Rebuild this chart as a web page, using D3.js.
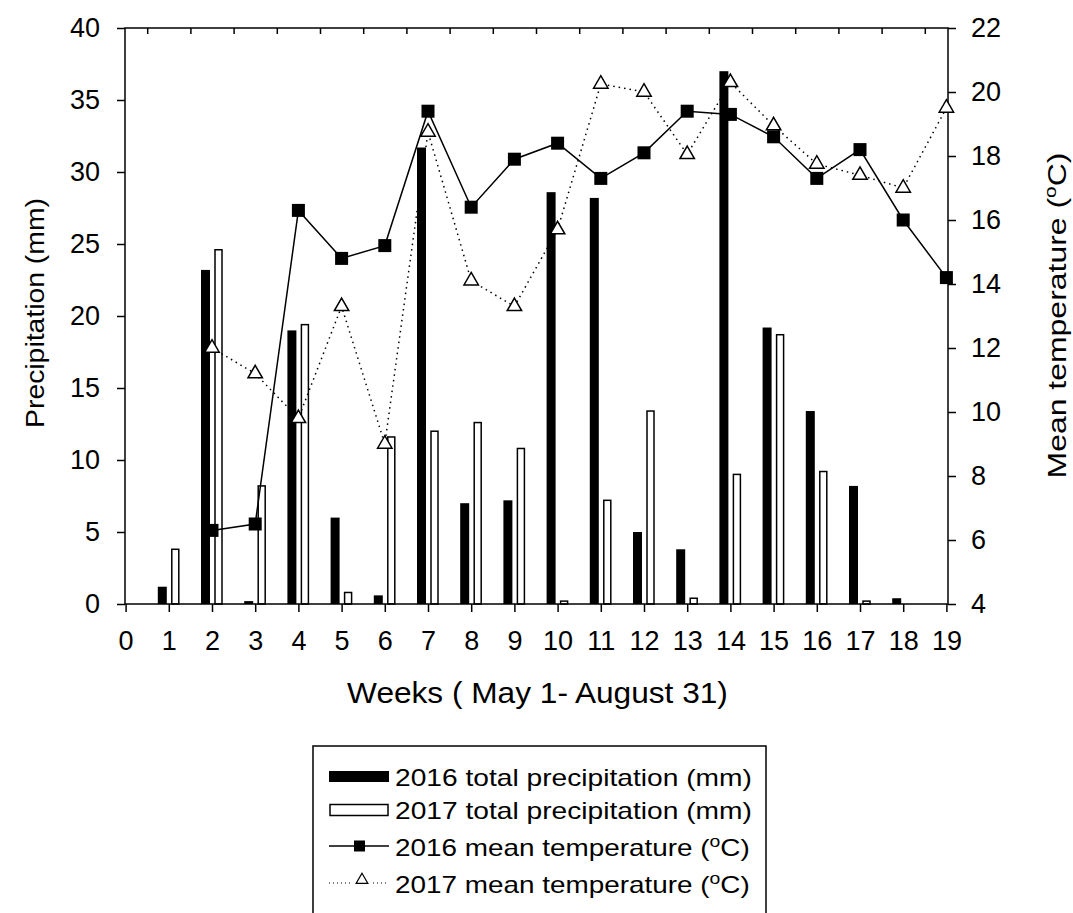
<!DOCTYPE html>
<html>
<head>
<meta charset="utf-8">
<script src="https://cdn.jsdelivr.net/npm/d3@7"></script>
<style>
  html, body { margin: 0; padding: 0; background: #fff; }
  svg { display: block; font-family: "Liberation Sans", Arial, sans-serif; }
</style>
</head>
<body>
<svg id="chart" width="1073" height="913"></svg>
<script>
// ---- data ----
const weeks = [1,2,3,4,5,6,7,8,9,10,11,12,13,14,15,16,17,18,19];
const precip2016 = [1.2,23.2,0.2,19.0,6.0,0.6,31.7,7.0,7.2,28.6,28.2,5.0,3.8,37.0,19.2,13.4,8.2,0.4,0];
const precip2017 = [3.8,24.6,8.2,19.4,0.8,11.6,12.0,12.6,10.8,0.2,7.2,13.4,0.4,9.0,18.7,9.2,0.2,0,0];
const temp2016Weeks = [2,3,4,5,6,7,8,9,10,11,12,13,14,15,16,17,18,19];
const temp2016 = [6.3,6.5,16.3,14.8,15.2,19.4,16.4,17.9,18.4,17.3,18.1,19.4,19.3,18.6,17.3,18.2,16.0,14.2];
const temp2017Weeks = [2,3,4,5,6,7,8,9,10,11,12,13,14,15,16,17,18,19];
const temp2017 = [12.0,11.2,9.8,13.3,9.0,18.75,14.1,13.3,15.7,20.25,20.0,18.05,20.3,18.95,17.75,17.4,17.0,19.5];
const xTicks = d3.range(0, 20);
const xTopTicks = d3.range(0.5, 19, 1);
const leftTicks = [0,5,10,15,20,25,30,35,40];
const rightTicks = [4,6,8,10,12,14,16,18,20,22];
const legendLabels = ["2016 total precipitation (mm)", "2017 total precipitation (mm)", "2016 mean temperature (", "2017 mean temperature ("];

// ---- layout ----
const svg = d3.select("#chart");
const L = 125, R = 948, T = 28, B = 604;
const x = d3.scaleLinear().domain([0, 19]).range([L + 0.6, R - 1.6]);
const yL = d3.scaleLinear().domain([0, 40]).range([B, T]);
const yR = d3.scaleLinear().domain([4, 22]).range([B, T]);
const FS = 27;

// stretch a text element horizontally (in its own frame) to a target length
function fitText(sel, cx, cy, rot, target) {
  const w = sel.node().getComputedTextLength();
  const sx = target / w;
  sel.attr("transform", `translate(${cx},${cy}) rotate(${rot}) scale(${sx},1)`);
}

// bars
const gBars = svg.append("g");
gBars.selectAll("rect.b16").data(weeks.map((w,i)=>({w, v: precip2016[i]})).filter(d=>d.v>0))
  .enter().append("rect")
  .attr("x", d => x(d.w) - 11).attr("width", 9)
  .attr("y", d => yL(d.v)).attr("height", d => B - yL(d.v))
  .attr("fill", "#000");
gBars.selectAll("rect.b17").data(weeks.map((w,i)=>({w, v: precip2017[i]})).filter(d=>d.v>0))
  .enter().append("rect")
  .attr("x", d => x(d.w) + 3).attr("width", 7)
  .attr("y", d => yL(d.v)).attr("height", d => B - yL(d.v))
  .attr("fill", "#fff").attr("stroke", "#000").attr("stroke-width", 1.5);

// frame
svg.append("rect").attr("x", L).attr("y", T).attr("width", R - L).attr("height", B - T)
  .attr("fill", "none").attr("stroke", "#000").attr("stroke-width", 1.5);

// axes
const axBottom = d3.axisBottom(x).tickValues(xTicks).tickSize(8).tickPadding(20).tickFormat(d3.format("d"));
const gB = svg.append("g").attr("transform", `translate(0,${B})`).call(axBottom);
const axTop = d3.axisBottom(x).tickValues(xTopTicks).tickSize(6).tickFormat("");
const gT = svg.append("g").attr("transform", `translate(0,${T})`).call(axTop);
const axLeft = d3.axisLeft(yL).tickValues(leftTicks).tickSize(8).tickPadding(17);
const gL = svg.append("g").attr("transform", `translate(${L},0)`).call(axLeft);
const axRight = d3.axisRight(yR).tickValues(rightTicks).tickSize(8).tickPadding(15);
const gR = svg.append("g").attr("transform", `translate(${R},0)`).call(axRight);
[gB, gT, gL, gR].forEach(g => {
  g.select(".domain").remove();
  g.selectAll("line").attr("stroke", "#000").attr("stroke-width", 1.5);
  g.selectAll("text").attr("font-size", FS).attr("fill", "#000")
    .attr("font-family", "Liberation Sans, Arial, sans-serif");
});
gB.selectAll("text").attr("dy", "0.66em");

// lines
const lineGen = d3.line().x(d => x(d.w)).y(d => yR(d.v));
const d17 = temp2017Weeks.map((w,i)=>({w, v: temp2017[i]}));
const d16 = temp2016Weeks.map((w,i)=>({w, v: temp2016[i]}));
svg.append("path").datum(d17).attr("d", lineGen).attr("fill", "none")
  .attr("stroke", "#000").attr("stroke-width", 1.5).attr("stroke-dasharray", "1.5,4");
const tri = d3.symbol().type(d3.symbolTriangle).size(90);
svg.selectAll("path.tri").data(d17).enter().append("path")
  .attr("transform", d => `translate(${x(d.w)},${yR(d.v)})`)
  .attr("d", tri).attr("fill", "#fff").attr("stroke", "#000").attr("stroke-width", 1.5);
svg.append("path").datum(d16).attr("d", lineGen).attr("fill", "none")
  .attr("stroke", "#000").attr("stroke-width", 1.5);
svg.selectAll("rect.sq").data(d16).enter().append("rect")
  .attr("x", d => x(d.w) - 6.5).attr("y", d => yR(d.v) - 6.5)
  .attr("width", 13).attr("height", 13).attr("fill", "#000");

// titles
const xt = svg.append("text").attr("text-anchor", "middle").attr("font-size", 29)
  .text("Weeks ( May 1- August 31)");
fitText(xt, 537.5, 703, 0, 381);
const lt = svg.append("text").attr("text-anchor", "middle").attr("font-size", 26)
  .text("Precipitation (mm)");
fitText(lt, 44, 313, -90, 230);
const rt = svg.append("text").attr("text-anchor", "middle").attr("font-size", 26);
rt.append("tspan").text("Mean temperature (");
rt.append("tspan").attr("font-size", 17).attr("dy", -10).text("o");
rt.append("tspan").attr("dy", 10).text("C)");
fitText(rt, 1066, 315.5, -90, 326);

// legend
const lg = svg.append("g");
lg.append("rect").attr("x", 313).attr("y", 746).attr("width", 453).attr("height", 220)
  .attr("fill", "#fff").attr("stroke", "#000").attr("stroke-width", 1.5);
const rows = [786, 819, 856, 893];
lg.append("rect").attr("x", 329).attr("y", 771).attr("width", 60).attr("height", 11).attr("fill", "#000");
lg.append("rect").attr("x", 330).attr("y", 804.5).attr("width", 58).attr("height", 11)
  .attr("fill", "#fff").attr("stroke", "#000").attr("stroke-width", 1.5);
lg.append("line").attr("x1", 329).attr("x2", 389).attr("y1", 846).attr("y2", 846)
  .attr("stroke", "#000").attr("stroke-width", 1.5);
lg.append("rect").attr("x", 354).attr("y", 840.5).attr("width", 11).attr("height", 11).attr("fill", "#000");
lg.append("line").attr("x1", 329).attr("x2", 389).attr("y1", 883).attr("y2", 883)
  .attr("stroke", "#000").attr("stroke-width", 1).attr("stroke-dasharray", "1,3");
lg.append("rect").attr("x", 351).attr("y", 874).attr("width", 21).attr("height", 12).attr("fill", "#fff");
lg.append("path").attr("transform", "translate(362,880)")
  .attr("d", d3.symbol().type(d3.symbolTriangle).size(60)).attr("fill", "#fff")
  .attr("stroke", "#000").attr("stroke-width", 1.2);
legendLabels.forEach((t, i) => {
  const tx = lg.append("text").attr("font-size", 23);
  tx.append("tspan").text(t);
  if (i >= 2) {
    tx.append("tspan").attr("font-size", 16).attr("dy", -9).text("o");
    tx.append("tspan").attr("dy", 9).text("C)");
  }
  fitText(tx, 395, rows[i], 0, i >= 2 ? 355 : 357);
});
</script>
</body>
</html>
